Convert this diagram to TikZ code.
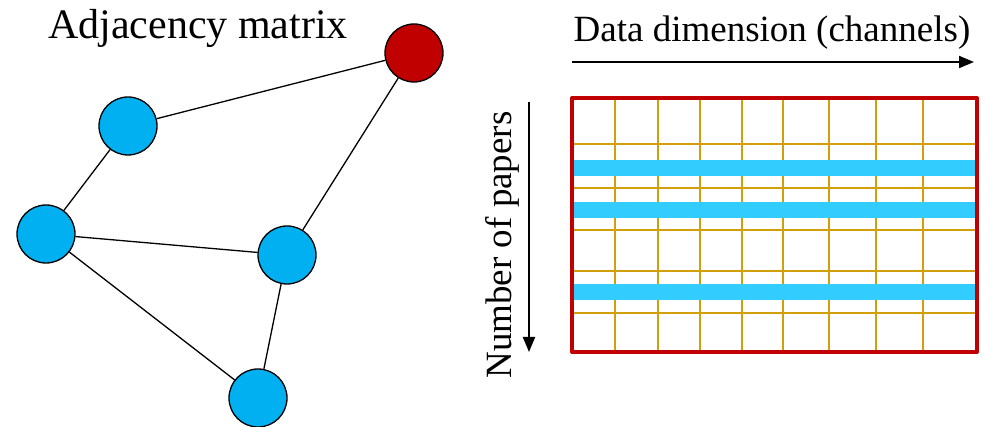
\documentclass[tikz,border=0pt]{standalone}
\usepackage{fontspec}
\setmainfont{Liberation Serif}
\usepackage{tikz}
\usetikzlibrary{arrows.meta}
\usepackage{xcolor}
\definecolor{nodeblue}{RGB}{0,176,240}
\definecolor{nodered}{RGB}{192,0,0}
\definecolor{barblue}{RGB}{51,204,255}
\definecolor{gridgold}{RGB}{210,158,10}

\begin{document}
\begin{tikzpicture}[x=1pt, y=-1pt,
  paper/.style={circle, draw=black, line width=1.3pt, minimum size=58pt, inner sep=0pt, fill=nodeblue},
  link/.style={draw=black, line width=1.3pt},
  axis/.style={-{Triangle[length=15pt, width=12pt]}, line width=2pt},
  bigtext/.style={font=\fontsize{42}{48}\selectfont, inner sep=0pt},
  axistext/.style={font=\fontsize{37}{44}\selectfont, inner sep=0pt}]
\useasboundingbox (0,0) rectangle (986,427);
% graph
\node(hub) at (414, 53) [paper, fill=nodered] {} ;
\node(upper) at (128, 126) [paper] {} ;
\node(left) at (46, 234) [paper] {} ;
\node(middle) at (287, 255) [paper] {} ;
\node(lower) at (258, 398) [paper] {} ;
\draw[link] (hub) -- (upper) ;
\draw[link] (upper) -- (left) ;
\draw[link] (left) -- (middle) ;
\draw[link] (middle) -- (hub) ;
\draw[link] (left) -- (lower) ;
\draw[link] (middle) -- (lower) ;
\node(title) at (198, 39) [bigtext, anchor=base] {Adjacency matrix} ;
% feature matrix
\foreach \gx in {615, 658, 700, 742, 783, 829, 876, 923}
  \draw[gridgold, line width=1.5pt] (\gx, 98) -- (\gx, 352) ;
\foreach \gy in {144, 188, 230, 271, 313}
  \draw[gridgold, line width=1.5pt] (573, \gy) -- (976, \gy) ;
\foreach \by in {168, 210, 292}
  \fill[barblue] (574, \by-8) rectangle (975, \by+8) ;
\draw[nodered, line width=4pt, line join=round] (572, 98) rectangle (977, 352) ;
% axes
\coordinate(dimstart) at (572, 62) ;
\coordinate(dimend) at (974, 62) ;
\coordinate(papstart) at (529, 102) ;
\coordinate(papend) at (529, 352) ;
\draw[axis] (dimstart) -- (dimend) ;
\draw[axis] (papstart) -- (papend) ;
\node(dimlabel) at (772, 42) [axistext, anchor=base] {Data dimension (channels)} ;
\node(paplabel) at (511, 245) [axistext, anchor=base, rotate=90] {Number of papers} ;
\end{tikzpicture}
\end{document}
